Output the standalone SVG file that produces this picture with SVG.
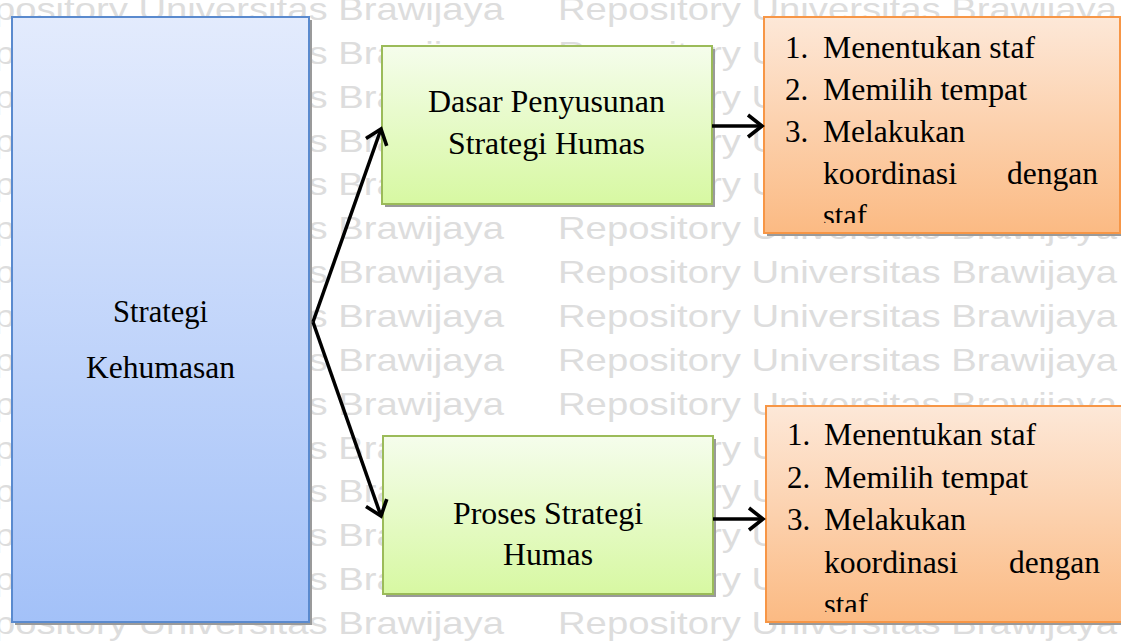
<svg xmlns="http://www.w3.org/2000/svg" xmlns:xlink="http://www.w3.org/1999/xlink" width="1121" height="642" viewBox="0 0 1121 642">
<style>
.wm{font-family:"Liberation Sans",Arial,sans-serif;font-size:32px;fill:#dddddd}
.t{font-family:"Liberation Serif","Times New Roman",serif;font-size:31px;fill:#000}
.shadow{fill:#9a9a9a}
.conn{stroke:#000;stroke-width:3.5;fill:none}
</style>
<defs>
<linearGradient id="gBlue" x1="0" y1="0" x2="0" y2="1"><stop offset="0" stop-color="#e3ebfd"/><stop offset="1" stop-color="#a3c1f8"/></linearGradient>
<linearGradient id="gGreen" x1="0" y1="0" x2="0" y2="1"><stop offset="0" stop-color="#f5fdec"/><stop offset="1" stop-color="#d7f8a2"/></linearGradient>
<linearGradient id="gOrange" x1="0" y1="0" x2="0" y2="1"><stop offset="0" stop-color="#fde8d8"/><stop offset="1" stop-color="#fbba83"/></linearGradient>
<marker id="arr" markerUnits="userSpaceOnUse" viewBox="0 0 20 26" markerWidth="20" markerHeight="26" refX="16" refY="13" orient="auto">
<path d="M2,2 L16,13 L2,24" fill="none" stroke="#000" stroke-width="3.6" stroke-linejoin="miter"/>
</marker>
<g id="wmrow">
<text class="wm" x="-55" y="0" textLength="559" lengthAdjust="spacingAndGlyphs">Repository Universitas Brawijaya</text>
<text class="wm" x="558" y="0" textLength="559" lengthAdjust="spacingAndGlyphs">Repository Universitas Brawijaya</text>
</g>
<clipPath id="clipO1"><rect x="764" y="17" width="356" height="206"/></clipPath>
<clipPath id="clipO2"><rect x="766" y="406" width="356" height="206"/></clipPath>
</defs>
<rect width="1121" height="642" fill="#fff"/>
<g id="watermark">
<use xlink:href="#wmrow" y="20"/>
<use xlink:href="#wmrow" y="64"/>
<use xlink:href="#wmrow" y="108"/>
<use xlink:href="#wmrow" y="152"/>
<use xlink:href="#wmrow" y="195"/>
<use xlink:href="#wmrow" y="239"/>
<use xlink:href="#wmrow" y="283"/>
<use xlink:href="#wmrow" y="327"/>
<use xlink:href="#wmrow" y="371"/>
<use xlink:href="#wmrow" y="415"/>
<use xlink:href="#wmrow" y="459"/>
<use xlink:href="#wmrow" y="502"/>
<use xlink:href="#wmrow" y="546"/>
<use xlink:href="#wmrow" y="590"/>
<use xlink:href="#wmrow" y="634"/>
</g>
<g id="node-strategi-kehumasan">
<rect class="shadow" x="15" y="20" width="297" height="605"/>
<rect x="12" y="17" width="297" height="605" fill="url(#gBlue)" stroke="#5a8ace" stroke-width="2"/>
<text class="t" x="113" y="322" textLength="95" lengthAdjust="spacingAndGlyphs">Strategi</text>
<text class="t" x="86" y="378" textLength="149" lengthAdjust="spacingAndGlyphs">Kehumasan</text>
</g>
<g id="node-dasar">
<rect class="shadow" x="385" y="49" width="330" height="158"/>
<rect x="382" y="46" width="330" height="158" fill="url(#gGreen)" stroke="#9bbb59" stroke-width="2"/>
<text class="t" x="428" y="112" textLength="237" lengthAdjust="spacingAndGlyphs">Dasar Penyusunan</text>
<text class="t" x="448" y="154" textLength="197" lengthAdjust="spacingAndGlyphs">Strategi Humas</text>
</g>
<g id="node-proses">
<rect class="shadow" x="386" y="439" width="330" height="158"/>
<rect x="383" y="436" width="330" height="158" fill="url(#gGreen)" stroke="#9bbb59" stroke-width="2"/>
<text class="t" x="453" y="524" textLength="190" lengthAdjust="spacingAndGlyphs">Proses Strategi</text>
<text class="t" x="503" y="565" textLength="90" lengthAdjust="spacingAndGlyphs">Humas</text>
</g>
<g id="node-list-1">
<rect class="shadow" x="767" y="20" width="356" height="216"/>
<rect x="764" y="17" width="356" height="216" fill="url(#gOrange)" stroke="#f79646" stroke-width="2"/>
<g clip-path="url(#clipO1)">
<text class="t" x="785" y="58">1.</text><text class="t" x="823" y="58" textLength="212" lengthAdjust="spacingAndGlyphs">Menentukan staf</text>
<text class="t" x="785" y="100">2.</text><text class="t" x="823" y="100" textLength="204" lengthAdjust="spacingAndGlyphs">Memilih tempat</text>
<text class="t" x="785" y="142">3.</text><text class="t" x="823" y="142" textLength="142" lengthAdjust="spacingAndGlyphs">Melakukan</text>
<text class="t" x="823" y="184" textLength="134" lengthAdjust="spacingAndGlyphs">koordinasi</text><text class="t" x="1007" y="184" textLength="91" lengthAdjust="spacingAndGlyphs">dengan</text>
<text class="t" x="823" y="226" textLength="44" lengthAdjust="spacingAndGlyphs">staf</text>
</g>
</g>
<g id="node-list-2">
<rect class="shadow" x="769" y="409" width="356" height="216"/>
<rect x="766" y="406" width="356" height="216" fill="url(#gOrange)" stroke="#f79646" stroke-width="2"/>
<g clip-path="url(#clipO2)">
<text class="t" x="787" y="445">1.</text><text class="t" x="824" y="445" textLength="212" lengthAdjust="spacingAndGlyphs">Menentukan staf</text>
<text class="t" x="787" y="488">2.</text><text class="t" x="824" y="488" textLength="204" lengthAdjust="spacingAndGlyphs">Memilih tempat</text>
<text class="t" x="787" y="530">3.</text><text class="t" x="824" y="530" textLength="142" lengthAdjust="spacingAndGlyphs">Melakukan</text>
<text class="t" x="824" y="573" textLength="134" lengthAdjust="spacingAndGlyphs">koordinasi</text><text class="t" x="1009" y="573" textLength="91" lengthAdjust="spacingAndGlyphs">dengan</text>
<text class="t" x="824" y="615" textLength="44" lengthAdjust="spacingAndGlyphs">staf</text>
</g>
</g>
<g id="connectors">
<line class="conn" x1="313" y1="322" x2="381" y2="129" marker-end="url(#arr)"/>
<line class="conn" x1="313" y1="322" x2="381" y2="516" marker-end="url(#arr)"/>
<line class="conn" x1="712" y1="126" x2="762" y2="126" marker-end="url(#arr)"/>
<line class="conn" x1="713" y1="519" x2="763" y2="519" marker-end="url(#arr)"/>
</g>
</svg>
